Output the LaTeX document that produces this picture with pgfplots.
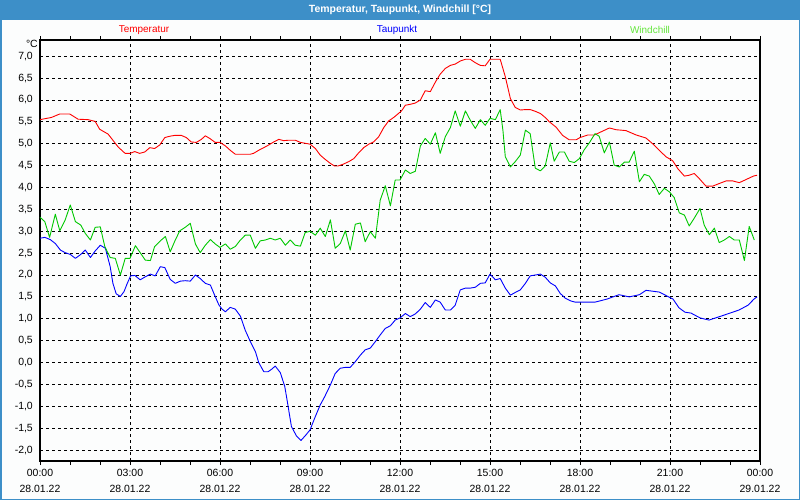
\documentclass[border=0pt]{standalone}
\usepackage{fontspec}
\setmainfont{Liberation Sans}
\usepackage{pgfplots}
\pgfplotsset{compat=1.18}

\definecolor{barblue}{RGB}{61,143,200}
\definecolor{bgcol}{RGB}{252,253,253}
\definecolor{tempred}{RGB}{255,0,0}
\definecolor{taublue}{RGB}{0,0,255}
\definecolor{windgreen}{RGB}{0,200,0}
\definecolor{windlabel}{RGB}{100,230,60}

\begin{document}
\begin{tikzpicture}
\useasboundingbox (0,0) rectangle (800bp,500bp);
\fill[bgcol] (0,0) rectangle (800bp,500bp);
\fill[barblue] (0,480bp) rectangle (800bp,500bp);
\draw[barblue, line width=1.5bp] (0.75bp,0.75bp) rectangle (799.25bp,499.25bp);
\node[text=white, font=\fontsize{10.5}{12}\selectfont\bfseries] at (400bp,490bp) {Temperatur, Taupunkt, Windchill [°C]};
\node[text=tempred, font=\fontsize{10}{12}\selectfont] at (144bp,470bp) {Temperatur};
\node[text=taublue, font=\fontsize{10}{12}\selectfont] at (397bp,470bp) {Taupunkt};
\node[text=windlabel, font=\fontsize{10}{12}\selectfont] at (650bp,470bp) {Windchill};
\node[anchor=east, inner sep=0pt, font=\fontsize{10.5}{12}\selectfont] at (38bp,456bp) {°C};

\begin{axis}[
    at={(40bp,39bp)}, anchor=south west,
    scale only axis,
    width=720bp, height=421bp,
    xmin=0, xmax=24,
    ymin=-2.25, ymax=7.37,
    xtick={0,3,...,24},
    minor xtick={1,2,4,5,7,8,10,11,13,14,16,17,19,20,22,23},
    xticklabels={{00:00\\28.01.22},{03:00\\28.01.22},{06:00\\28.01.22},{09:00\\28.01.22},{12:00\\28.01.22},{15:00\\28.01.22},{18:00\\28.01.22},{21:00\\28.01.22},{00:00\\29.01.22}},
    ytick={-2,-1.5,...,7},
    /pgf/number format/fixed,
    /pgf/number format/fixed zerofill,
    /pgf/number format/precision=1,
    /pgf/number format/use comma,
    /pgf/number format/assume math mode=true,
    yticklabel style={anchor=east, inner sep=0pt, xshift=-3bp, font=\fontsize{10.5}{12}\selectfont},
    xticklabel style={align=center, inner sep=0pt, yshift=-4bp, font=\fontsize{10.5}{16}\selectfont},
    tick align=outside,
    major tick length=4bp, minor tick length=4bp,
    ytick style={draw=none},
    xtick style={black, line width=0.8bp},
    grid=major,
    major grid style={black, line width=0.8bp, dash pattern=on 3bp off 3bp},
    axis line style={black, line width=1.2bp},
    every axis plot/.append style={line width=0.9bp, line join=round},
]
% Temperatur
\addplot[tempred] coordinates {
(0,5.55)(0.38,5.60)(0.66,5.68)(0.99,5.68)(1.27,5.56)(1.6,5.55)(1.84,5.51)(1.99,5.33)(2.27,5.22)(2.43,5.08)(2.6,4.93)(2.77,4.82)(2.84,4.78)(3.0,4.78)
(3.16,4.82)(3.32,4.78)(3.49,4.81)(3.66,4.91)(3.82,4.89)(3.99,4.97)(4.16,5.14)(4.32,5.17)(4.49,5.19)(4.71,5.19)(4.88,5.14)(5.04,5.04)(5.21,5.03)(5.38,5.10)(5.51,5.18)(5.66,5.12)(5.84,5.03)(6.0,5.03)
(6.18,4.95)(6.34,4.85)(6.51,4.76)(7.01,4.76)(7.12,4.78)(7.29,4.85)(7.46,4.91)(7.62,4.97)(7.79,5.04)(7.96,5.10)(8.12,5.07)(8.29,5.08)(8.51,5.08)(8.68,5.03)(8.84,5.01)(9.0,4.99)
(9.18,4.89)(9.34,4.74)(9.51,4.64)(9.68,4.55)(9.82,4.49)(9.93,4.49)(10.1,4.53)(10.29,4.59)(10.46,4.66)(10.62,4.79)(10.79,4.91)(10.96,4.99)(11.12,5.04)(11.29,5.16)(11.46,5.37)(11.62,5.52)(11.79,5.60)(11.93,5.68)(12.05,5.75)
(12.18,5.88)(12.34,5.90)(12.51,5.93)(12.68,6.0)(12.84,6.21)(13.01,6.19)(13.18,6.41)(13.34,6.59)(13.51,6.72)(13.68,6.79)(13.84,6.82)(14.01,6.89)(14.18,6.93)(14.34,6.93)(14.51,6.85)(14.68,6.79)(14.84,6.78)(15.0,6.93)
(15.18,6.93)(15.34,6.93)(15.51,6.53)(15.68,6.03)(15.84,5.83)(16.01,5.77)(16.18,5.78)(16.34,5.78)(16.51,5.74)(16.68,5.69)(16.84,5.60)(16.98,5.50)(17.2,5.38)(17.42,5.19)(17.64,5.09)(17.87,5.09)(18.0,5.14)
(18.26,5.20)(18.48,5.20)(18.76,5.29)(18.98,5.36)(19.2,5.32)(19.53,5.30)(19.87,5.20)(20.2,5.13)(20.42,5.0)(20.64,4.85)(20.87,4.70)(21.09,4.61)(21.26,4.43)(21.48,4.26)(21.64,4.28)(21.81,4.32)(21.98,4.20)(22.2,4.03)(22.42,4.03)(22.64,4.09)(22.87,4.15)(23.09,4.15)(23.31,4.11)(23.53,4.18)(23.78,4.26)(23.9,4.28)
};
% Taupunkt
\addplot[taublue] coordinates {
(0,2.84)(0.16,2.86)(0.34,2.81)(0.51,2.72)(0.68,2.57)(0.84,2.51)(1.01,2.47)(1.18,2.38)(1.34,2.46)(1.51,2.57)(1.68,2.40)(1.84,2.55)(2.01,2.68)(2.18,2.61)(2.34,2.19)(2.43,1.81)(2.54,1.57)(2.68,1.51)(2.8,1.62)(2.91,1.81)(3.02,1.98)
(3.16,1.99)(3.34,1.89)(3.51,1.96)(3.68,2.02)(3.84,1.98)(4.01,2.19)(4.16,2.17)(4.34,1.90)(4.51,1.81)(4.68,1.86)(4.84,1.87)(5.01,1.86)(5.18,2.0)(5.34,1.92)(5.51,1.81)(5.68,1.77)(5.82,1.54)(5.96,1.32)
(6.07,1.22)(6.18,1.16)(6.34,1.26)(6.51,1.22)(6.68,1.06)(6.84,0.74)(7.01,0.48)(7.18,0.25)(7.29,0.0)(7.46,-0.21)(7.6,-0.21)(7.73,-0.15)(7.84,-0.08)(8.01,-0.23)(8.16,-0.55)(8.27,-1.0)(8.38,-1.46)(8.55,-1.68)(8.7,-1.78)(8.87,-1.65)(9.0,-1.54)
(9.18,-1.23)(9.34,-0.97)(9.49,-0.78)(9.68,-0.51)(9.84,-0.25)(10.01,-0.13)(10.18,-0.11)(10.34,-0.11)(10.51,0.02)(10.68,0.17)(10.84,0.29)(11.01,0.33)(11.18,0.48)(11.34,0.63)(11.51,0.78)(11.68,0.84)(11.84,0.97)(12.0,1.02)
(12.18,1.12)(12.34,1.05)(12.51,1.11)(12.68,1.22)(12.84,1.37)(13.01,1.26)(13.18,1.43)(13.34,1.38)(13.51,1.20)(13.68,1.20)(13.84,1.31)(14.01,1.66)(14.18,1.70)(14.34,1.70)(14.51,1.72)(14.68,1.81)(14.84,1.82)(15.0,2.02)
(15.18,1.89)(15.34,1.92)(15.51,1.70)(15.68,1.54)(15.84,1.60)(16.01,1.66)(16.18,1.81)(16.34,1.98)(16.51,2.0)(16.68,2.02)(16.84,1.95)(17.01,1.82)(17.18,1.75)(17.34,1.58)(17.51,1.47)(17.68,1.41)(17.84,1.38)(18.0,1.38)
(18.5,1.38)(18.9,1.45)(19.3,1.55)(19.64,1.5)(19.98,1.55)(20.2,1.65)(20.64,1.61)(20.9,1.52)(21.1,1.45)(21.3,1.25)(21.5,1.15)(21.7,1.13)(22.0,1.02)(22.3,0.97)(22.7,1.06)(23.0,1.13)(23.3,1.2)(23.6,1.31)(23.8,1.45)(23.9,1.5)
};
% Windchill
\addplot[windgreen] coordinates {
(0,3.32)(0.16,3.22)(0.32,2.86)(0.51,3.39)(0.66,3.01)(0.84,3.26)(1.01,3.60)(1.18,3.22)(1.36,3.14)(1.51,2.95)(1.68,2.80)(1.84,3.09)(2.01,3.10)(2.16,2.65)(2.34,2.40)(2.51,2.38)(2.68,2.0)(2.84,2.38)(3.0,2.38)
(3.18,2.67)(3.34,2.51)(3.51,2.34)(3.68,2.33)(3.82,2.65)(4.01,2.78)(4.18,2.88)(4.34,2.53)(4.51,2.80)(4.66,3.01)(4.84,3.09)(5.01,3.18)(5.18,2.71)(5.34,2.51)(5.51,2.68)(5.68,2.81)(5.84,2.71)(6.0,2.63)
(6.18,2.71)(6.34,2.59)(6.51,2.65)(6.68,2.80)(6.84,2.91)(7.01,2.91)(7.18,2.61)(7.34,2.78)(7.51,2.80)(7.68,2.84)(7.84,2.80)(8.01,2.84)(8.18,2.68)(8.34,2.80)(8.51,2.68)(8.68,2.66)(8.84,2.97)(9.0,3.0)
(9.18,2.91)(9.34,3.07)(9.51,2.88)(9.68,3.26)(9.84,2.61)(10.01,2.72)(10.18,3.01)(10.34,2.57)(10.51,3.16)(10.68,3.19)(10.84,2.76)(11.01,2.99)(11.18,2.84)(11.34,3.71)(11.51,4.04)(11.68,3.58)(11.84,4.17)(12.0,4.17)
(12.18,4.40)(12.34,4.32)(12.51,4.37)(12.68,4.95)(12.84,5.12)(13.01,4.99)(13.18,5.25)(13.34,4.78)(13.51,5.16)(13.68,5.37)(13.84,5.75)(14.01,5.40)(14.18,5.75)(14.34,5.54)(14.51,5.35)(14.68,5.55)(14.84,5.42)(15.0,5.58)
(15.18,5.55)(15.34,5.78)(15.43,5.31)(15.51,4.70)(15.68,4.47)(15.84,4.59)(16.01,4.74)(16.18,5.31)(16.34,5.23)(16.51,4.44)(16.68,4.38)(16.84,4.49)(17.01,5.02)(17.14,4.60)(17.31,4.81)(17.48,4.81)(17.64,4.60)(17.81,4.57)(17.98,4.66)
(18.14,4.86)(18.31,5.02)(18.5,5.23)(18.64,5.17)(18.81,4.79)(18.98,5.04)(19.14,4.51)(19.31,4.47)(19.48,4.58)(19.64,4.58)(19.81,4.83)(19.98,4.13)(20.14,4.30)(20.31,4.26)(20.48,4.08)(20.64,3.84)(20.81,3.98)(20.98,3.90)(21.14,3.77)(21.31,3.42)(21.48,3.37)(21.64,3.12)(21.81,3.30)(22.0,3.52)(22.14,3.14)(22.31,2.92)(22.48,3.07)(22.64,2.74)(22.81,2.80)(22.98,2.88)(23.14,2.80)(23.31,2.80)(23.48,2.33)(23.64,3.11)(23.81,2.80)
};
\end{axis}
\end{tikzpicture}
\end{document}
